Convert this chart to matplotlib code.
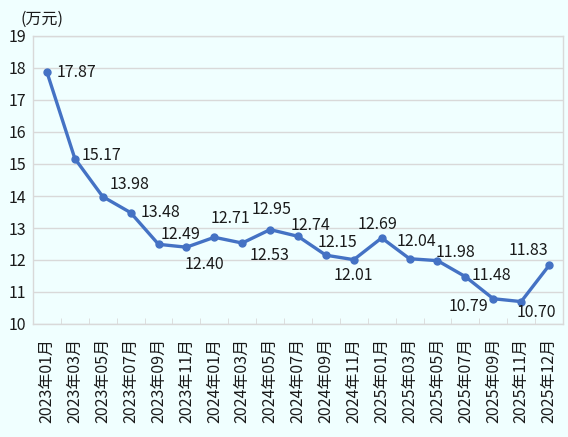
import matplotlib
matplotlib.use("Agg")
import matplotlib.pyplot as plt
from matplotlib.ticker import FixedLocator

plt.rcParams['font.family'] = ['Noto Sans CJK JP', 'DejaVu Sans']

categories = ["2023年01月", "2023年03月", "2023年05月", "2023年07月", "2023年09月",
              "2023年11月", "2024年01月", "2024年03月", "2024年05月", "2024年07月",
              "2024年09月", "2024年11月", "2025年01月", "2025年03月", "2025年05月",
              "2025年07月", "2025年09月", "2025年11月", "2025年12月"]
values = [17.87, 15.17, 13.98, 13.48, 12.49, 12.40, 12.71, 12.53, 12.95, 12.74,
          12.15, 12.01, 12.69, 12.04, 11.98, 11.48, 10.79, 10.70, 11.83]
yticks = [10, 11, 12, 13, 14, 15, 16, 17, 18, 19]
unit_label = "(万元)"

# label offsets in pixels (dx, dy up)
label_offsets = [(30, 0), (27, 3), (27, 12), (30, 0), (22, 10), (18, -17), (16, 19),
                 (27, -12), (2, 20), (12, 11), (12, 13), (0, -16), (-4, 13), (7, 17),
                 (18, 8), (26, 1), (-25, -8), (15, -11), (-21, 15)]

bg = '#F0FFFF'
grid_c = '#D9D9D9'
line_c = '#4472C4'
text_c = '#1a1a1a'

fig = plt.figure(figsize=(5.68, 4.37), dpi=100, facecolor=bg)
ax = fig.add_axes([33/568, 1-324/437, 530/568, 288/437], facecolor=bg)

x = list(range(len(categories)))
ax.plot(x, values, color=line_c, lw=2.4, marker='o', ms=5, zorder=3, clip_on=False)

for xi, v, (dx, dy) in zip(x, values, label_offsets):
    ax.annotate(f"{v:.2f}", (xi, v), xytext=(dx, dy), textcoords='offset pixels',
                ha='center', va='center', fontsize=11.5, color=text_c, zorder=4)

ax.set_xlim(-0.5, len(categories) - 0.5)
ax.set_ylim(10, 19)
ax.set_yticks(yticks)
ax.set_yticklabels([str(t) for t in yticks], fontsize=11.5, color=text_c)
ax.set_xticks(x)
ax.set_xticklabels(categories, rotation=90, fontsize=11.5, color=text_c)
ax.xaxis.set_minor_locator(FixedLocator([i - 0.5 for i in range(len(categories) + 1)]))
ax.tick_params(axis='x', which='major', length=0, pad=10)
ax.tick_params(axis='x', which='minor', direction='in', length=4, color=grid_c)
ax.tick_params(axis='y', length=0, pad=5)

ax.grid(axis='y', color=grid_c, lw=1)
ax.set_axisbelow(True)
for s in ax.spines.values():
    s.set_color(grid_c)
    s.set_linewidth(1)

fig.text(20/568, 1-19.5/437, unit_label, fontsize=11.5, color=text_c, ha='left', va='center')

fig.savefig("out.png", dpi=100, facecolor=bg)
